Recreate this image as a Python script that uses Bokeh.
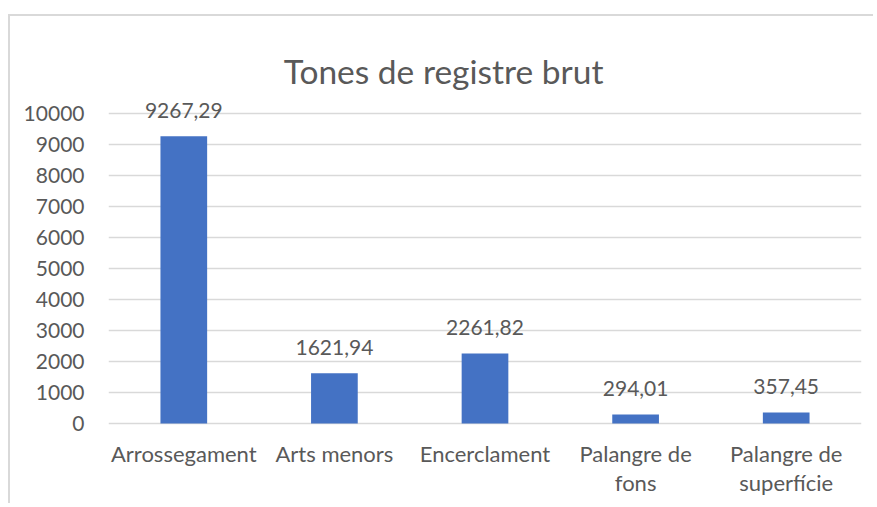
from bokeh.plotting import figure
from bokeh.models import ColumnDataSource, LabelSet, Label, Range1d, FactorRange, FixedTicker
from bokeh.core.properties import value
from bokeh.embed import file_html
from bokeh.resources import INLINE

categories = ["Arrossegament", "Arts menors", "Encerclament", "Palangre de fons", "Palangre de superfície"]
label_line1 = ["Arrossegament", "Arts menors", "Encerclament", "Palangre de", "Palangre de"]
label_line2 = ["", "", "", "fons", "superfície"]
values = [9267.29, 1621.94, 2261.82, 294.01, 357.45]
y_ticks = [0, 1000, 2000, 3000, 4000, 5000, 6000, 7000, 8000, 9000, 10000]
title_text = "Tones de registre brut"

FONT = "Lato"
TEXT = "#595959"
GRID = "#d9d9d9"
BAR = "#4472C4"

src = ColumnDataSource(dict(
    cat=categories,
    val=values,
    lab=[f"{v:.2f}".replace(".", ",") for v in values],
    l1=label_line1,
    l2=label_line2,
))

# canvas 865x489 placed at page (10,16); frame covers full height, x from 98 to 851
p = figure(
    width=865, height=489,
    x_range=FactorRange(*categories),
    y_range=Range1d(-2645.16, 13129.03),
    output_backend="svg", toolbar_location=None,
    min_border=0, min_border_left=98, min_border_right=14, min_border_top=0, min_border_bottom=0,
)
p.styles = {"margin-left": "8px", "margin-top": "14px",
            "border-top": "2px solid #d9d9d9", "border-left": "2px solid #d9d9d9"}
p.outline_line_color = None
p.background_fill_color = "white"
p.border_fill_color = "white"

p.vbar(x="cat", top="val", width=0.31, source=src, fill_color=BAR, line_color=None)

p.add_layout(LabelSet(x="cat", y="val", text="lab", source=src, text_align="center",
                      text_baseline="alphabetic", y_offset=18, text_font=value(FONT),
                      text_font_size=value("21px"), text_color=value(TEXT)))

for col, off in (("l1", -38.5), ("l2", -67)):
    p.add_layout(LabelSet(x="cat", y=0, text=col, source=src, text_align="center",
                          text_baseline="alphabetic", y_offset=off, text_font=value(FONT),
                          text_font_size=value("22px"), text_color=value(TEXT)))

p.add_layout(Label(x=2.225, y=11387, text=title_text, text_align="center", text_baseline="alphabetic",
                   text_font=FONT, text_font_size="33.5px", text_color=TEXT))

p.xgrid.grid_line_color = None
p.ygrid.grid_line_color = GRID
p.ygrid.grid_line_width = 1.5
p.ygrid.ticker = FixedTicker(ticks=y_ticks)

p.xaxis.visible = False

p.yaxis.ticker = FixedTicker(ticks=y_ticks)
p.yaxis.axis_line_color = None
p.yaxis.major_tick_line_color = None
p.yaxis.minor_tick_line_color = None
p.yaxis.major_label_standoff = 18
p.yaxis.major_label_text_font = FONT
p.yaxis.major_label_text_font_size = "21px"
p.yaxis.major_label_text_color = TEXT

open("out.html", "w").write(file_html(p, INLINE))
